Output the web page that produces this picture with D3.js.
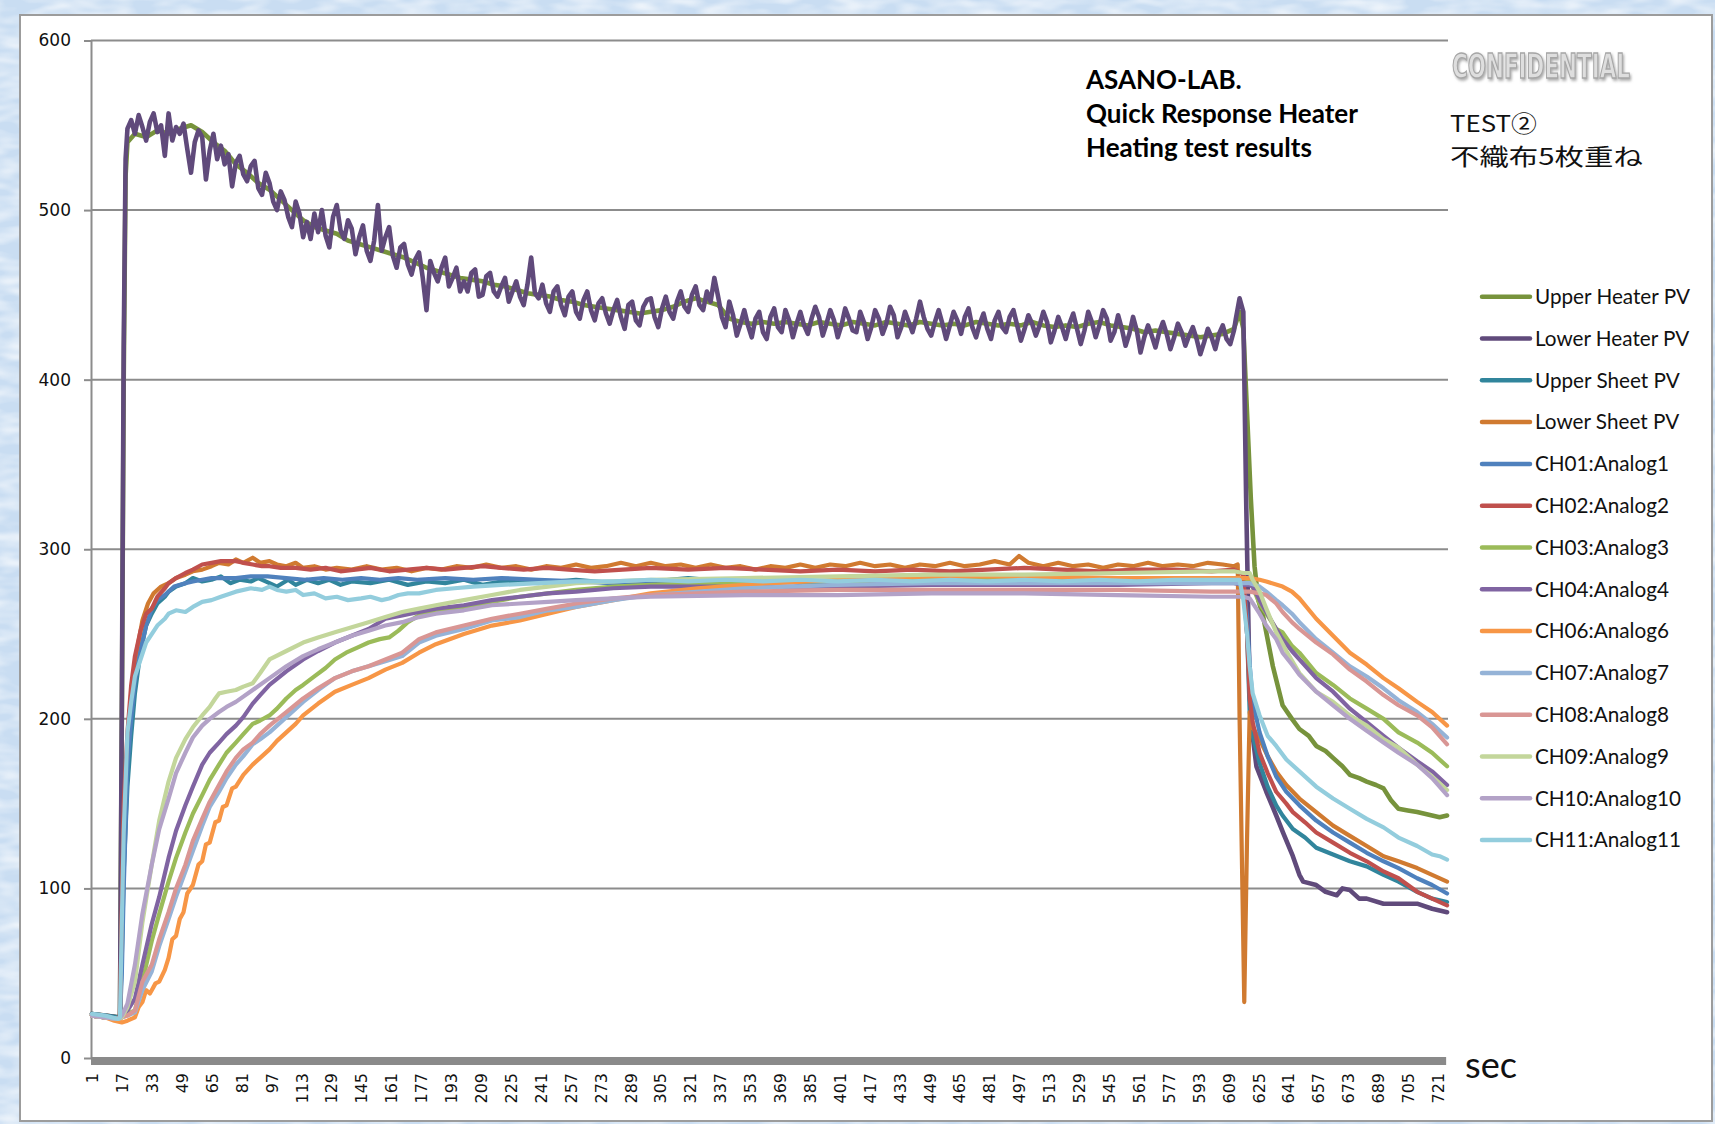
<!DOCTYPE html>
<html>
<head>
<meta charset="utf-8">
<script src="https://cdn.jsdelivr.net/npm/d3@7"></script>
<style>
  html, body { margin: 0; padding: 0; background: #cfe1f3; }
  svg { display: block; }
</style>
</head>
<body>
<div id="chart"></div>
<script>
// ---- data (sec, value) ----
const yTicks = [0, 100, 200, 300, 400, 500, 600];
const xTicks = [1, 17, 33, 49, 65, 81, 97, 113, 129, 145, 161, 177, 193, 209, 225, 241, 257, 273, 289, 305,
  321, 337, 353, 369, 385, 401, 417, 433, 449, 465, 481, 497, 513, 529, 545, 561, 577, 593, 609, 625,
  641, 657, 673, 689, 705, 721];

const upperHeaterPV = [[1,26],[8,25],[15,24],[16,25],[17,200],[18,400],[19,520],[20,540],[24,545],[30,543],[36,547],[42,545],[48,548],[54,550],[60,546],[66,540],[72,535],[78,527],[84,522],[90,516],[96,512],[102,506],[108,500],[114,494],[120,490],[126,488],[132,486],[138,482],[144,480],[150,478],[156,476],[162,474],[168,472],[174,469],[180,466],[186,464],[192,462],[198,460],[204,459],[210,458],[216,456],[222,455],[228,453],[234,451],[240,450],[246,449],[252,447],[258,446],[264,444],[270,443],[276,442],[282,441],[288,440],[294,439],[300,440],[306,441],[312,443],[318,446],[324,448],[330,446],[336,444],[342,436],[348,434],[354,433],[360,434],[366,433],[372,434],[378,433],[384,432],[390,434],[396,433],[402,432],[408,434],[414,433],[420,432],[426,434],[432,433],[438,432],[444,434],[450,433],[456,432],[462,433],[468,432],[474,434],[480,433],[486,432],[492,433],[498,432],[504,434],[510,432],[516,431],[522,432],[528,431],[534,433],[540,434],[546,432],[552,431],[558,430],[564,428],[570,429],[576,428],[582,427],[588,426],[594,425],[600,426],[606,427],[612,430],[615,440],[617,430],[619,380],[621,330],[623,290],[625,270],[627.5,261],[632.8,231],[638,208],[643,200],[647,194],[652,190],[656,184],[661,181],[665,177],[670,172],[674,167],[679,165],[683,163],[688,161],[692,159],[696,152],[700,147],[705,146],[710,145],[714,144],[718,143],[722,142],[726,143]];

const lowerHeaterPV = [[1,26],[8,25],[15,24],[16,25],[17,210],[18,420],[19,530],
  [20,548],[22,553],[24,545],[26,556],[28,549],[30,541],[32,552],[34,557],[36,546],[38,550],
  [40,532],[42,557],[44,541],[46,549],[48,545],[50,551],[52,536],[54,522],[56,540],[58,547],
  [60,543],[62,518],[64,535],[66,545],[68,530],[70,538],[72,527],[74,533],[76,514],[78,528],
  [80,532],[82,521],[84,517],[86,526],[88,529],[90,513],[92,509],[94,522],[96,516],[98,505],
  [100,500],[102,511],[104,506],[106,496],[108,490],[110,505],[112,498],[114,484],[116,493],[118,483],
  [120,498],[122,487],[124,500],[126,485],[128,478],[130,496],[132,503],[134,488],[136,483],[138,494],
  [140,489],[142,474],[144,484],[146,491],[148,476],[150,470],[152,482],[154,503],[156,476],[158,484],
  [160,490],[162,473],[164,466],[166,478],[168,480],[170,468],[172,462],[174,471],[176,475],[178,460],
  [180,441],[182,470],[184,463],[186,458],[188,466],[190,472],[192,455],[194,460],[196,466],[198,452],
  [200,458],[202,452],[204,463],[206,465],[208,449],[210,450],[212,461],[214,463],[216,452],[218,449],
  [220,455],[222,460],[224,446],[226,452],[228,458],[230,449],[232,444],[234,456],[236,472],[238,451],
  [240,448],[242,456],[244,445],[246,440],[248,452],[250,455],[252,444],[254,438],[256,449],[258,452],
  [260,440],[262,436],[264,447],[266,452],[268,441],[270,435],[272,445],[274,448],[276,439],[278,433],
  [280,441],[282,447],[284,437],[286,430],[288,444],[290,446],[292,435],[294,432],[296,443],[298,447],
  [300,448],[302,437],[304,431],[306,442],[308,449],[310,440],[312,436],[314,446],[316,452],[318,443],
  [320,440],[322,450],[324,455],[326,444],[328,441],[330,452],[332,446],[334,460],[336,449],[338,437],
  [340,431],[342,446],[344,438],[346,426],[348,433],[350,441],[352,432],[354,425],[356,436],[358,440],
  [360,428],[362,424],[364,437],[366,442],[368,431],[370,428],[372,441],[374,435],[376,425],[378,433],
  [380,440],[382,432],[384,427],[386,436],[388,443],[390,437],[392,426],[394,433],[396,441],[398,435],
  [400,425],[402,432],[404,442],[406,436],[408,429],[410,428],[412,440],[414,434],[416,424],[418,431],
  [420,441],[422,436],[424,427],[426,433],[428,443],[430,438],[432,425],[434,431],[436,440],[438,434],
  [440,428],[442,436],[444,446],[446,437],[448,430],[450,426],[452,434],[454,441],[456,433],[458,424],
  [460,432],[462,440],[464,435],[466,427],[468,437],[470,442],[472,431],[474,425],[476,433],[478,439],
  [480,430],[482,424],[484,435],[486,440],[488,431],[490,428],[492,437],[494,441],[496,432],[498,423],
  [500,430],[502,438],[504,433],[506,426],[508,432],[510,440],[512,434],[514,422],[516,429],[518,437],
  [520,431],[522,424],[524,433],[526,439],[528,430],[530,421],[532,429],[534,440],[536,434],[538,425],
  [540,432],[542,441],[544,436],[546,423],[548,428],[550,438],[552,430],[554,420],[556,427],[558,437],
  [560,429],[562,416],[564,425],[566,432],[568,426],[570,419],[572,428],[574,434],[576,427],[578,418],
  [580,425],[582,433],[584,428],[586,420],[588,426],[590,431],[592,424],[594,415],[596,422],[598,430],
  [600,425],[602,418],[604,427],[606,432],[608,424],[610,421],[612,429],
  [613,436],[615,448],[617,440],[618.5,330],[620.4,215],[622,190],[624,172],[629.3,157],[634.6,143],[638.2,133],[643.5,119],[647,108],[649,104],[656,102],[661,98],[667,96],[670,100],[674,99],[679,94],[683,94],[692,91],[700,91],[710,91],[718,88],[726,86]];

const upperSheetPV = [[1,26],[8,25],[15,24],[16,24],[17,60],[18,110],[20,160],[22,190],[24,215],[27,240],[30,255],[33,262],[36,268],[40,272],[42,275],[46,278],[51,280],[55,283],[60,281],[65,282],[70,284],[75,280],[80,282],[86,281],[90,283],[96,280],[100,278],[106,282],[110,279],[116,282],[122,280],[128,282],[134,279],[140,281],[150,280],[160,282],[170,279],[180,281],[190,280],[200,282],[210,279],[220,281],[240,280],[260,282],[280,280],[300,281],[320,283],[340,281],[360,280],[380,282],[400,280],[420,282],[440,281],[460,283],[480,281],[500,282],[520,280],[540,282],[560,281],[580,280],[600,282],[612,281],[617,279],[619,250],[620.4,204],[622,190],[625.7,174],[630,160],[634.6,149],[638,143],[643.5,135],[650,130],[656,124],[665,120],[674,116],[683,113],[692,108],[700,104],[710,98],[718,94],[726,92]];

const lowerSheetPV = [[1,25],[8,24],[15,23],[16,24],[17,80],[18,140],[20,185],[22,215],[25,240],[28,258],[31,268],[34,274],[38,278],[42,280],[46,283],[51,285],[55,287],[60,288],[65,290],[69,292],[74,291],[78,294],[82,292],[87,295],[91,292],[96,293],[100,291],[105,290],[110,292],[114,289],[120,290],[126,288],[132,289],[140,288],[148,290],[156,288],[164,289],[172,287],[180,289],[188,288],[196,290],[204,289],[212,291],[220,289],[228,290],[236,288],[244,290],[252,289],[260,291],[268,289],[276,290],[284,292],[292,290],[300,292],[308,290],[316,291],[324,289],[332,291],[340,289],[348,290],[356,288],[364,290],[372,289],[380,291],[388,289],[396,291],[404,290],[412,292],[420,290],[428,291],[436,289],[444,291],[452,290],[460,292],[468,290],[476,291],[484,293],[492,291],[497,296],[502,292],[510,290],[518,292],[526,290],[534,291],[542,289],[550,291],[558,290],[566,292],[574,290],[582,291],[590,290],[598,292],[606,291],[612,290],[614,291],[615,200],[616.5,100],[617.5,33],[619,130],[620.4,204],[622,195],[625.7,188],[630,178],[634.6,169],[640,161],[647,153],[656,145],[665,137],[674,131],[683,125],[692,119],[700,116],[710,112],[718,108],[726,104]];

const ch01 = [[1,25],[8,24],[15,23],[16,24],[17,50],[18,100],[20,173],[22,200],[24,222],[27,240],[30,255],[33,265],[36,270],[40,273],[45,278],[51,280],[55,281],[60,282],[65,283],[70,283],[78,283],[86,284],[95,284],[105,283],[115,282],[125,283],[135,282],[145,283],[155,282],[165,283],[175,282],[190,283],[205,282],[220,283],[240,282],[260,281],[280,280],[300,281],[320,280],[340,281],[360,280],[370,282],[380,280],[400,281],[420,280],[440,282],[460,281],[480,280],[500,281],[520,280],[540,281],[560,282],[580,281],[600,282],[612,281],[617,280],[619,260],[620.4,232],[622,210],[625.7,192],[630,178],[634.6,166],[640,157],[647,149],[656,140],[665,133],[674,127],[683,121],[692,116],[700,112],[710,106],[718,102],[726,97]];

const ch02 = [[1,25],[8,24],[15,23],[16,25],[17,90],[18,150],[20,192],[22,220],[24,237],[27,252],[30,262],[33,265],[36,272],[40,277],[42,280],[46,283],[51,286],[55,288],[60,291],[65,292],[70,293],[75,293],[78,293],[82,292],[87,291],[92,290],[96,290],[102,289],[110,289],[118,288],[126,289],[134,287],[142,288],[150,289],[160,287],[170,288],[180,289],[190,288],[200,289],[210,290],[220,289],[232,288],[244,289],[256,288],[270,287],[285,288],[300,289],[320,288],[340,289],[360,288],[380,287],[400,288],[420,287],[440,288],[460,287],[480,288],[500,289],[520,288],[540,287],[560,288],[580,288],[600,287],[612,288],[617,285],[619,250],[620.4,212],[622,198],[625.7,180],[630,168],[634.6,157],[640,150],[643.5,145],[650,139],[656,133],[665,127],[674,121],[683,116],[692,110],[700,106],[710,98],[718,94],[726,90]];

const ch03 = [[1,25],[8,24],[15,23],[17,24],[20,26],[24,28],[28,45],[33,69],[37,85],[42,104],[46,118],[51,133],[55,144],[60,155],[64,164],[69,173],[73,180],[78,186],[82,191],[87,197],[91,199],[96,202],[100,206],[105,212],[110,217],[114,220],[120,225],[126,230],[131,235],[137,239],[143,242],[149,245],[155,247],[160,248],[165,252],[170,257],[176,261],[185,263],[200,266],[215,269],[230,272],[245,274],[260,276],[280,278],[300,279],[330,280],[360,281],[400,281],[450,282],[500,282],[550,283],[600,283],[612,283],[617,283],[620.4,282],[623,275],[625.7,268],[629.3,262],[634.6,253],[638,251],[643,243],[647,239],[656,227],[665,220],[674,212],[683,206],[692,200],[700,192],[710,186],[718,180],[726,172]];

const ch04 = [[1,25],[8,24],[15,23],[17,24],[20,28],[24,35],[28,55],[33,79],[37,95],[42,118],[46,134],[51,149],[55,160],[60,173],[64,180],[69,186],[73,191],[78,196],[82,201],[87,209],[91,214],[96,220],[105,228],[114,235],[122,240],[131,245],[140,249],[149,253],[158,259],[167,261],[176,263],[185,265],[200,267],[215,270],[230,272],[245,274],[260,275],[280,277],[300,278],[350,278],[400,278],[450,279],[500,279],[550,279],[600,280],[612,280],[617,279],[620.4,279],[622,278],[625.7,270],[629.3,263],[634.6,253],[638,247],[643,240],[647,235],[656,224],[665,216],[674,206],[683,198],[692,190],[700,183],[710,175],[718,169],[726,161]];

const ch06 = [[1,25],[8,24],[13,22],[17,21],[20,22],[24,24],[26,30],[28,33],[30,40],[32,38],[33,40],[35,44],[37,45],[40,52],[42,59],[44,70],[46,72],[48,82],[50,86],[52,97],[55,102],[58,114],[60,116],[62,126],[64,127],[67,139],[69,140],[71,148],[73,149],[76,159],[78,160],[82,167],[87,173],[91,177],[96,182],[100,187],[105,192],[110,197],[114,202],[122,209],[131,216],[140,220],[149,224],[158,229],[167,233],[176,239],[185,244],[200,250],[215,255],[230,258],[245,262],[260,266],[280,270],[300,274],[325,277],[350,279],[400,282],[450,284],[500,284],[550,283],[600,283],[612,283],[617,283],[620.4,283],[625.7,282],[629.3,281],[638,278],[643,275],[647,271],[656,259],[665,249],[674,239],[683,232],[692,224],[700,218],[710,210],[718,204],[726,196]];

const ch07 = [[1,25],[8,24],[15,23],[17,24],[20,25],[24,27],[28,40],[33,51],[37,66],[42,82],[46,95],[51,110],[55,122],[60,137],[64,148],[69,157],[73,165],[78,173],[82,178],[87,185],[91,188],[96,192],[105,201],[114,210],[122,217],[131,224],[140,228],[149,231],[158,234],[167,237],[176,245],[185,249],[200,253],[215,258],[230,260],[245,264],[260,266],[280,270],[300,273],[350,277],[400,279],[450,280],[500,280],[550,280],[600,280],[612,280],[617,280],[620.4,280],[625.7,278],[629.3,275],[634.6,270],[638,267],[643,262],[647,257],[656,247],[665,239],[674,231],[683,225],[692,218],[700,211],[710,204],[718,197],[726,189]];

const ch08 = [[1,25],[8,24],[15,23],[17,24],[20,25],[24,28],[28,45],[33,55],[37,70],[42,86],[46,100],[51,114],[55,128],[60,141],[64,151],[69,161],[73,169],[78,177],[82,182],[87,186],[91,191],[96,196],[105,204],[114,212],[122,218],[131,224],[140,228],[149,231],[158,235],[167,239],[176,247],[185,251],[200,255],[215,259],[230,262],[245,265],[260,268],[280,271],[300,273],[350,275],[400,276],[450,276],[500,276],[550,276],[600,275],[612,275],[617,275],[620.4,275],[625.7,274],[629.3,273],[634.6,268],[638,263],[643,257],[647,253],[656,245],[665,238],[674,229],[683,222],[692,214],[700,208],[710,202],[718,195],[726,185]];

const ch09 = [[1,25],[8,24],[15,23],[17,24],[20,30],[24,45],[28,80],[33,114],[37,140],[42,163],[46,177],[51,188],[55,195],[60,202],[64,207],[67,212],[69,215],[73,216],[78,217],[82,219],[87,221],[91,227],[96,235],[105,240],[114,245],[122,248],[131,251],[140,254],[149,257],[158,260],[167,263],[176,265],[185,267],[200,270],[215,273],[230,276],[245,278],[260,280],[280,281],[300,282],[350,283],[400,284],[450,285],[500,285],[550,286],[600,287],[612,287],[617,286],[620.4,286],[622,282],[625.7,275],[629.3,265],[634.6,251],[640,240],[647,227],[656,216],[665,210],[674,202],[683,196],[692,188],[700,183],[710,173],[718,166],[726,158]];

const ch10 = [[1,25],[8,24],[15,23],[17,25],[20,32],[24,55],[28,85],[33,114],[37,135],[42,153],[46,168],[51,180],[55,189],[60,196],[64,200],[69,204],[73,207],[78,210],[87,217],[96,224],[105,231],[114,237],[122,241],[131,245],[140,249],[149,252],[158,255],[167,257],[176,260],[185,262],[200,264],[215,267],[230,268],[245,269],[260,270],[280,271],[300,272],[350,273],[400,273],[450,274],[500,274],[550,273],[600,272],[612,272],[617,272],[620.4,271],[625.7,262],[629.3,255],[634.6,247],[638,239],[643,232],[647,226],[656,216],[665,208],[674,200],[683,193],[692,186],[700,180],[710,173],[718,165],[726,155]];

const ch11 = [[1,26],[8,25],[15,23],[16,24],[17,80],[18,133],[20,192],[22,210],[24,225],[27,235],[30,245],[33,250],[36,255],[40,259],[42,262],[46,264],[51,263],[55,266],[60,269],[65,270],[70,272],[78,275],[86,277],[92,276],[96,278],[100,276],[105,275],[110,276],[114,273],[120,274],[126,271],[132,272],[138,270],[145,271],[150,272],[156,270],[160,271],[165,273],[170,274],[176,274],[185,276],[195,277],[205,278],[220,279],[240,280],[260,281],[280,281],[300,282],[320,281],[340,282],[360,281],[380,282],[400,281],[420,282],[440,281],[460,282],[480,281],[500,282],[520,281],[540,282],[560,281],[580,282],[600,282],[612,282],[615,282],[617,270],[619,250],[620.4,231],[622,215],[625.7,202],[630,190],[634.6,184],[640,176],[647,169],[656,160],[665,153],[674,147],[683,141],[692,136],[700,130],[710,125],[718,120],[722,119],[726,117]];

const seriesNames = ['Upper Heater PV', 'Lower Heater PV', 'Upper Sheet PV', 'Lower Sheet PV',
  'CH01:Analog1', 'CH02:Analog2', 'CH03:Analog3', 'CH04:Analog4', 'CH06:Analog6',
  'CH07:Analog7', 'CH08:Analog8', 'CH09:Analog9', 'CH10:Analog10', 'CH11:Analog11'];
const seriesColors = ['#77933c', '#604a7b', '#31859c', '#d07a30', '#4f81bd', '#c0504d', '#9bbb59',
  '#8064a2', '#f79646', '#95b3d7', '#d99694', '#c3d69b', '#b3a2c7', '#93cddd'];
const seriesData = [upperHeaterPV, lowerHeaterPV, upperSheetPV, lowerSheetPV, ch01, ch02, ch03,
  ch04, ch06, ch07, ch08, ch09, ch10, ch11];

const series = seriesNames.map((name, i) => ({ name, color: seriesColors[i], data: seriesData[i] }));

// ---- layout ----
const W = 1715, H = 1124;
const PLOT_LEFT = 91, PLOT_RIGHT = 1448, PLOT_TOP = 40.5, PLOT_BOTTOM = 1058;
const AXIS_FONT = '"DejaVu Sans", Verdana, sans-serif';
const TEXT_FONT = 'Lato, "Open Sans", sans-serif';

const svg = d3.select('#chart').append('svg')
  .attr('width', W).attr('height', H);
const defs = svg.append('defs');

// mottled light-blue backdrop around the chart
const tex = defs.append('filter').attr('id', 'tex')
  .attr('x', 0).attr('y', 0).attr('width', '100%').attr('height', '100%');
tex.append('feTurbulence')
  .attr('type', 'fractalNoise').attr('baseFrequency', '0.03 0.09')
  .attr('numOctaves', 2).attr('seed', 4);
tex.append('feColorMatrix').attr('type', 'matrix')
  .attr('values', '0 0 0 0 1  0 0 0 0 1  0 0 0 0 1  0 0 0 1.6 -0.55');
svg.append('rect').attr('width', W).attr('height', H).attr('fill', '#c9ddf2');
svg.append('rect').attr('width', W).attr('height', H).attr('filter', 'url(#tex)').attr('opacity', 0.8);

// chart area
svg.append('rect')
  .attr('x', 20).attr('y', 15).attr('width', 1692).attr('height', 1106)
  .attr('fill', '#fff').attr('stroke', '#9c9c9c').attr('stroke-width', 2);

// scales
const x = d3.scaleLinear().domain([0.5, 726.5]).range([PLOT_LEFT, PLOT_RIGHT]);
const y = d3.scaleLinear().domain([0, 600]).range([PLOT_BOTTOM, PLOT_TOP]);

// gridlines
svg.append('g').attr('class', 'grid')
  .selectAll('line')
  .data(yTicks.filter(d => d > 0))
  .join('line')
  .attr('x1', PLOT_LEFT).attr('x2', PLOT_RIGHT)
  .attr('y1', d => y(d)).attr('y2', d => y(d))
  .attr('stroke', '#8c8c8c').attr('stroke-width', 2);

// y axis
const $yAxis = svg.append('g')
  .attr('transform', `translate(${PLOT_LEFT},0)`)
  .call(d3.axisLeft(y).tickValues(yTicks).tickSize(7).tickSizeOuter(0).tickPadding(13));
$yAxis.select('.domain').attr('stroke', '#8c8c8c').attr('stroke-width', 2);
$yAxis.selectAll('.tick line').attr('stroke', '#8c8c8c').attr('stroke-width', 2);
$yAxis.selectAll('text')
  .attr('font-family', AXIS_FONT).attr('font-size', 17).attr('fill', '#111');

// lines
const line = d3.line()
  .x(d => x(d[0]))
  .y(d => y(d[1]));

svg.append('g').attr('class', 'series')
  .selectAll('path')
  .data(series)
  .join('path')
  .attr('d', d => line(d.data))
  .attr('fill', 'none')
  .attr('stroke', d => d.color)
  .attr('stroke-width', (d, i) => i < 2 ? 4.6 : 4.2)
  .attr('stroke-linejoin', 'round')
  .attr('stroke-linecap', 'round');

// x axis: thick bar + rotated labels
svg.append('rect')
  .attr('x', PLOT_LEFT).attr('y', PLOT_BOTTOM - 1)
  .attr('width', x(725.5) - PLOT_LEFT).attr('height', 8)
  .attr('fill', '#8a8a8a');

const $xAxis = svg.append('g')
  .attr('transform', `translate(0,${PLOT_BOTTOM})`)
  .call(d3.axisBottom(x).tickValues(xTicks).tickSize(0).tickSizeOuter(0));
$xAxis.select('.domain').remove();
$xAxis.selectAll('text')
  .attr('font-family', AXIS_FONT).attr('font-size', 16).attr('fill', '#111')
  .attr('transform', 'rotate(-90)')
  .attr('text-anchor', 'end')
  .attr('x', -15).attr('y', 0).attr('dy', '0.36em');

// helper: font size that makes a text hit a width
function fitWidth(sel, target) {
  const w = sel.node().getComputedTextLength();
  const fs = parseFloat(sel.attr('font-size'));
  return fs * target / w;
}

const $sec = svg.append('text')
  .attr('x', 1465).attr('y', 1078)
  .attr('font-family', TEXT_FONT).attr('font-size', 38).attr('fill', '#111')
  .text('sec');
$sec.attr('font-size', fitWidth($sec, 52));

// legend
const $legend = svg.append('g').attr('class', 'legend');
const $rows = $legend.selectAll('g')
  .data(series)
  .join('g')
  .attr('transform', (d, i) => `translate(0,${296.7 + i * 41.8})`);
$rows.append('line')
  .attr('x1', 1482).attr('x2', 1530)
  .attr('stroke', d => d.color).attr('stroke-width', 4.5).attr('stroke-linecap', 'round');
$rows.append('text')
  .attr('x', 1535).attr('dy', '0.35em')
  .attr('font-family', TEXT_FONT).attr('font-size', 18).attr('fill', '#111')
  .text(d => d.name);
const legendSize = fitWidth($rows.select('text').filter((d, i) => i === 0), 155);
$rows.selectAll('text').attr('font-size', legendSize);

// title block
const titleLines = ['ASANO-LAB.', 'Quick Response Heater', 'Heating test results'];
const $title = svg.append('g').attr('class', 'title');
$title.selectAll('text')
  .data(titleLines)
  .join('text')
  .attr('x', 1086).attr('y', (d, i) => 89 + i * 34)
  .attr('font-family', TEXT_FONT).attr('font-weight', 700).attr('font-size', 24).attr('fill', '#000')
  .text(d => d);
const titleSize = fitWidth($title.selectAll('text').filter((d, i) => i === 1), 272);
$title.selectAll('text').attr('font-size', titleSize);

// watermark (squeezed horizontally by a transform rather than textLength)
const shadow = defs.append('filter').attr('id', 'wm-shadow')
  .attr('x', '-20%').attr('y', '-50%').attr('width', '140%').attr('height', '200%');
shadow.append('feDropShadow')
  .attr('dx', 2).attr('dy', 2).attr('stdDeviation', 1.6)
  .attr('flood-color', '#888').attr('flood-opacity', 0.7);
const $wm = svg.append('text')
  .attr('x', 0).attr('y', 0)
  .attr('font-family', '"DejaVu Sans", sans-serif').attr('font-weight', 700)
  .attr('font-size', 33)
  .attr('fill', '#dedede').attr('stroke', '#a6a6a6').attr('stroke-width', 1.4)
  .attr('filter', 'url(#wm-shadow)')
  .text('CONFIDENTIAL');
const wmWidth = $wm.node().getComputedTextLength();
$wm.attr('transform', `translate(1452,78) scale(${178 / wmWidth},1)`);

// test note (stretched horizontally like the source)
const noteLines = [
  { text: 'TEST②', y: 132, width: 87 },
  { text: '不織布5枚重ね', y: 165, width: 193 }
];
noteLines.forEach(n => {
  const t = svg.append('text')
    .attr('x', 0).attr('y', 0)
    .attr('font-family', '"Noto Sans CJK JP", "Noto Sans", sans-serif')
    .attr('font-size', 23).attr('fill', '#111')
    .text(n.text);
  const w = t.node().getComputedTextLength();
  t.attr('transform', `translate(1450,${n.y}) scale(${n.width / w},1)`);
});
</script>
</body>
</html>
